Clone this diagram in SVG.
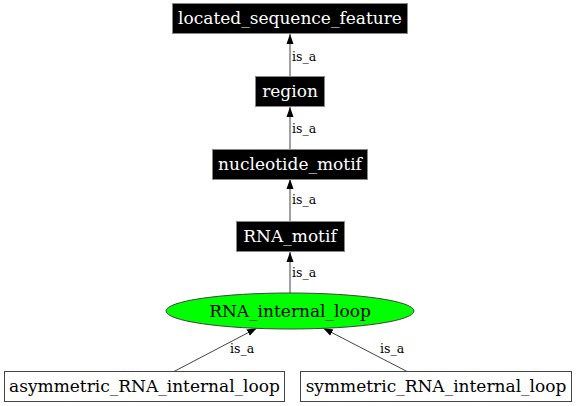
<svg xmlns="http://www.w3.org/2000/svg" width="576" height="406" viewBox="0 0 576 406">
<defs>
<style>
.blk rect{fill:#000;stroke:#888;stroke-width:1}
.blk text{fill:#fff}
.wht rect{fill:#fff;stroke:#444;stroke-width:1}
.nt{font-family:'DejaVu Serif',serif;font-size:17px;text-anchor:middle}
.lbl{font-family:'DejaVu Serif',serif;font-size:12.5px;fill:#000}
.edge{stroke:#444;stroke-width:1;fill:none;marker-end:url(#ah)}
</style>
<marker id="ah" viewBox="0 0 10 10" refX="10" refY="5" markerWidth="10" markerHeight="10" markerUnits="userSpaceOnUse" orient="auto">
<path d="M0,1.5 L10,5 L0,8.5 Z" fill="#000"/>
</marker>
</defs>
<rect width="576" height="406" fill="#fff"/>
<g id="connectors">
<line class="edge" x1="290" y1="76" x2="290" y2="34"/>
<text class="lbl" x="292" y="61" font-family="DejaVu Serif, serif" font-size="12.5">is_a</text>
<line class="edge" x1="290" y1="149" x2="290" y2="107"/>
<text class="lbl" x="292" y="133" font-family="DejaVu Serif, serif" font-size="12.5">is_a</text>
<line class="edge" x1="290" y1="221" x2="290" y2="179"/>
<text class="lbl" x="292" y="204" font-family="DejaVu Serif, serif" font-size="12.5">is_a</text>
<line class="edge" x1="290" y1="293" x2="290" y2="252"/>
<text class="lbl" x="292" y="277" font-family="DejaVu Serif, serif" font-size="12.5">is_a</text>
<line class="edge" x1="173" y1="372" x2="257" y2="328"/>
<text class="lbl" x="230" y="353" font-family="DejaVu Serif, serif" font-size="12.5">is_a</text>
<line class="edge" x1="408" y1="372" x2="323" y2="328"/>
<text class="lbl" x="380" y="353" font-family="DejaVu Serif, serif" font-size="12.5">is_a</text>
</g>
<g id="located_sequence_feature" class="blk">
<rect x="172.5" y="3.5" width="235" height="30"/>
<text class="nt" x="290" y="24" font-family="DejaVu Serif, serif" font-size="17">located_sequence_feature</text>
</g>
<g id="region" class="blk">
<rect x="255.5" y="76.5" width="69" height="30"/>
<text class="nt" x="290" y="97" font-family="DejaVu Serif, serif" font-size="17">region</text>
</g>
<g id="nucleotide_motif" class="blk">
<rect x="212.5" y="149.5" width="155" height="30"/>
<text class="nt" x="290" y="170" font-family="DejaVu Serif, serif" font-size="17">nucleotide_motif</text>
</g>
<g id="RNA_motif" class="blk">
<rect x="236.5" y="221.5" width="108" height="30"/>
<text class="nt" x="290" y="242" font-family="DejaVu Serif, serif" font-size="17">RNA_motif</text>
</g>
<g id="RNA_internal_loop">
<ellipse cx="290" cy="311" rx="124" ry="18" fill="#00ff00" stroke="#444"/>
<text class="nt" x="290" y="317" font-family="DejaVu Serif, serif" font-size="17">RNA_internal_loop</text>
</g>
<g id="asymmetric_RNA_internal_loop" class="wht">
<rect x="4.5" y="371.5" width="280" height="30"/>
<text class="nt" x="144.5" y="392" font-family="DejaVu Serif, serif" font-size="17">asymmetric_RNA_internal_loop</text>
</g>
<g id="symmetric_RNA_internal_loop" class="wht">
<rect x="300.5" y="371.5" width="271" height="30"/>
<text class="nt" x="436" y="392" font-family="DejaVu Serif, serif" font-size="17">symmetric_RNA_internal_loop</text>
</g>
</svg>
